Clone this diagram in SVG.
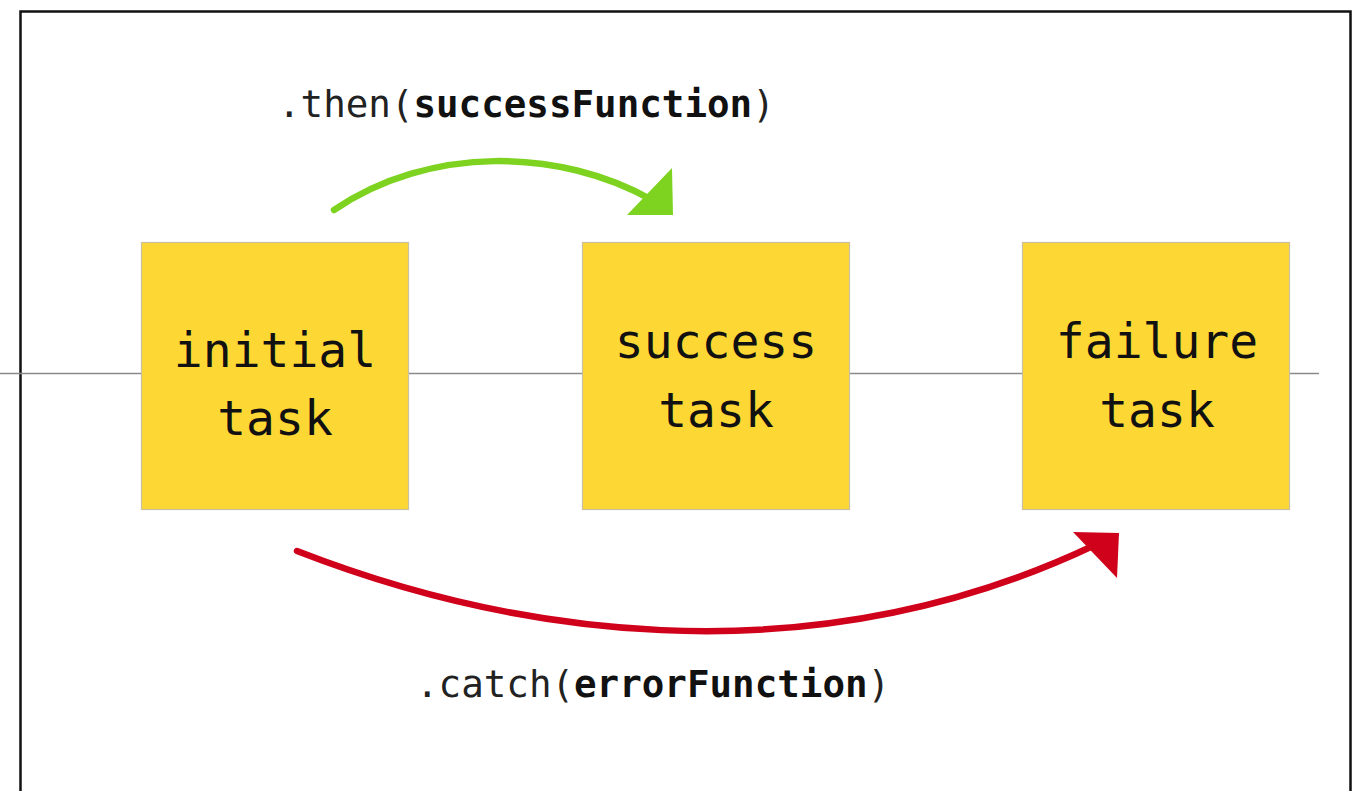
<svg xmlns="http://www.w3.org/2000/svg" width="1359" height="791" viewBox="0 0 1359 791">
<style>
.node rect{fill:#FDD835;stroke:#C8C0A0;stroke-width:1.2}
.node text{font-family:"DejaVu Sans Mono","Liberation Mono",monospace;font-size:48px;fill:#111;text-anchor:middle}
.lbl{font-family:"DejaVu Sans Mono","Liberation Mono",monospace;font-size:37.5px;fill:#222}
.lbl tspan.b{font-weight:bold;fill:#111}
</style>
<rect x="0" y="0" width="1359" height="791" fill="#fff"/>
<rect x="20.5" y="11.5" width="1330" height="800" fill="none" stroke="#111" stroke-width="2.5"/>
<line x1="0" y1="373.5" x2="1319" y2="373.5" stroke="#8a8a8a" stroke-width="1.5"/>
<g id="connectors">
<path d="M334,210 C430,145 560,148 652,200" fill="none" stroke="#7ED321" stroke-width="6.5" stroke-linecap="round"/>
<polygon points="627,215 673,215 672,168" fill="#7ED321"/>
<path d="M297,551 C500,630 800,685 1095,545" fill="none" stroke="#D0021B" stroke-width="6.5" stroke-linecap="round"/>
<polygon points="1073,532 1119,533 1117,578" fill="#D0021B"/>
</g>
<g id="node-initial" class="node">
<rect x="141.5" y="242.5" width="267" height="267"/>
<text x="275" y="367">initial</text>
<text x="275" y="435">task</text>
</g>
<g id="node-success" class="node">
<rect x="582.5" y="242.5" width="267" height="267"/>
<text x="716" y="358">success</text>
<text x="716" y="427">task</text>
</g>
<g id="node-failure" class="node">
<rect x="1022.5" y="242.5" width="267" height="267"/>
<text x="1157" y="358">failure</text>
<text x="1157" y="427">task</text>
</g>
<text class="lbl" x="278" y="117">.then(<tspan class="b">successFunction</tspan>)</text>
<text class="lbl" x="416" y="697">.catch(<tspan class="b">errorFunction</tspan>)</text>
</svg>
